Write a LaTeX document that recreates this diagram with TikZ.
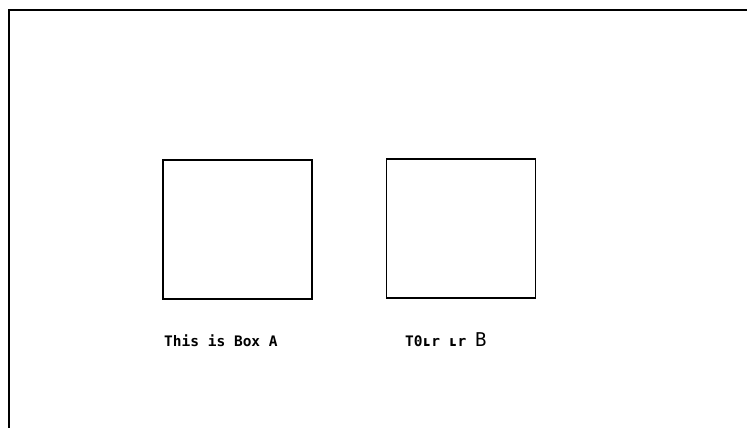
\documentclass[tikz,border=0pt]{standalone}
\usepackage{fontspec}
\newfontfamily\plotfont{DejaVu Sans Mono}
\begin{document}
\begin{tikzpicture}[x=1pt,y=-1pt,
  frameline/.style={line width=2pt},
  boxshape/.style={draw,line width=1.5pt,minimum width=149pt,minimum height=139pt,inner sep=0pt,anchor=north west},
  labeltext/.style={font=\plotfont\bfseries\fontsize{14.5}{16}\selectfont,inner sep=0pt,anchor=base west}]
\useasboundingbox (0,0) rectangle (747,428);
\coordinate (fa) at (747,10.5);
\coordinate (fb) at (9,10.5);
\coordinate (fc) at (9,428);
\draw[frameline] (fa) -- (fb) -- (fc);
\node[boxshape] (boxA) at (162,159) {};
\node[boxshape] (boxB) at (385.5,158) {};
\node[labeltext] (labA) at (164,346) {This is Box A};
\node[labeltext] (labB) at (405,346) {T\textbf{0}ʟr ʟr {\fontsize{19}{20}\selectfont\mdseries B}};
\end{tikzpicture}
\end{document}
